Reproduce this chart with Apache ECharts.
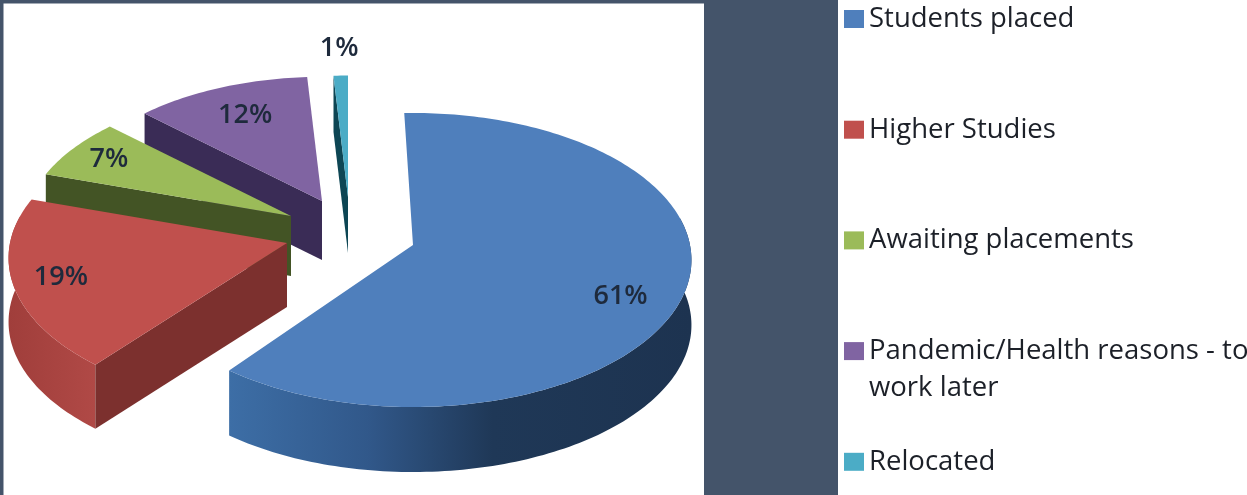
<!DOCTYPE html>
<html><head><meta charset="utf-8">
<style>html,body{margin:0;padding:0;background:#44546a}#c{width:1247px;height:495px}</style>
<script src="https://cdn.jsdelivr.net/npm/echarts@6/dist/echarts.min.js"></script>
</head><body><div id="c"></div>
<script>
const categories = ['Students placed','Higher Studies','Awaiting placements','Pandemic/Health reasons - to','Relocated'];
const legendExtraLine = 'work later';
const values = [61,19,7,12,1];

const topColors  = ['#4f7fbc','#c0504d','#9bbb59','#8064a2','#4bacc6'];
const wallColors = ['#1d3350','#7c302e','#435425','#3a2c56','#0d4654'];
const rimStops = [
  [[0,'#3d6ea6'],[0.3,'#31588a'],[0.57,'#1f3857'],[1,'#1d3350']],
  [[0,'#a03e3b'],[1,'#b04946']],
  [[0,'#5c7430'],[1,'#5c7430']],
  [[0,'#4a3a6e'],[1,'#4a3a6e']],
  [[0,'#2e8aa2'],[1,'#2e8aa2']]
];
/* exploded layout of the five wedges, and the projection of the tilted disc */
const apexes = [[413,245],[287,243],[291,216],[322,201],[348,197]];
const depths = [65,64,60,59,56];
const scales = [1,1,0.96,0.94,0.92];
const turns = [-2,0,0,0,0];
const labelRadii = [0.80,0.83,0.83,0.74,1.25];
const labelTurns = [7.5,0,0,0,0];
const RX = 277, RY = 145.5, PERSP = 0.102;
const DEG = Math.PI/180;

const total = values.reduce((a,b)=>a+b,0);
function wedge(i){
  let s = 0; for(let k=0;k<i;k++) s += values[k];
  const t = turns[i]*DEG;
  return [t+s/total*Math.PI*2, t+(s+values[i])/total*Math.PI*2];
}
function project(i,a,r){
  const u=r*Math.sin(a), v=r*Math.cos(a), w=1+PERSP*v, s=scales[i];
  return [apexes[i][0]+s*RX*u/w, apexes[i][1]-s*RY*v/w];
}
function renderSlice(i){
  return function(params,api){
    const val = api.value(0);
    const [a0,a1] = wedge(i);
    const n = Math.max(4,Math.ceil((a1-a0)/0.02));
    const rim=[], front=[];
    for(let k=0;k<=n;k++){
      const a=a0+(a1-a0)*k/n, p=project(i,a,1);
      rim.push(p);
      if(Math.cos(a)<0.2) front.push(p);   // only the near part of the rim has a visible wall
    }
    const apex=apexes[i], d=depths[i];
    const down=p=>[p[0],p[1]+d];
    const rimFill=new echarts.graphic.LinearGradient(0,0,1,0,rimStops[i].map(s=>({offset:s[0],color:s[1]})));
    const children=[];
    if(front.length>1) children.push({type:'polygon',shape:{points:front.concat(front.slice().reverse().map(down))},style:{fill:rimFill}});
    // a radial wall shows only when it faces the viewer
    if(Math.sin(a0)<-0.05) children.push({type:'polygon',shape:{points:[apex,rim[0],down(rim[0]),down(apex)]},style:{fill:wallColors[i]}});
    if(Math.sin(a1)>0.05)  children.push({type:'polygon',shape:{points:[apex,rim[n],down(rim[n]),down(apex)]},style:{fill:wallColors[i]}});
    children.push({type:'polygon',shape:{points:[apex].concat(rim)},style:{fill:topColors[i]}});
    const lp=project(i,(a0+a1)/2+labelTurns[i]*DEG,labelRadii[i]);
    children.push({type:'text',x:lp[0],y:lp[1],style:{text:val+'%',fill:'#1e2a3c',font:'600 27px "Open Sans"',align:'center',verticalAlign:'middle'}});
    return {type:'group',children};
  };
}
const drawOrder=[4,3,2,1,0];
const series=drawOrder.map((i,pos)=>({
  type:'custom',name:categories[i],coordinateSystem:'none',
  z:2+pos,silent:true,animation:false,
  itemStyle:{color:topColors[i]},
  renderItem:renderSlice(i),
  data:[[values[i]]]
}));
const chart=echarts.init(document.getElementById('c'),null,{renderer:'canvas'});
chart.setOption({
  animation:false,
  backgroundColor:'#44546a',
  graphic:[
    {type:'rect',z:0,shape:{x:3.5,y:3.5,width:700.5,height:492},style:{fill:'#fff'}},
    {type:'rect',z:0,shape:{x:838,y:0,width:409,height:495},style:{fill:'#fff'}},
    {type:'text',z:10,x:869,y:388,style:{text:legendExtraLine,fill:'#1c2028',font:'27.5px "Open Sans"',verticalAlign:'middle'}}
  ],
  legend:{
    orient:'vertical',left:844,top:4,padding:0,itemWidth:20,itemHeight:18,itemGap:80.7,
    icon:'rect',selectedMode:false,
    data:categories,
    textStyle:{color:'#1c2028',fontFamily:'Open Sans',fontSize:27.5,lineHeight:30}
  },
  series
});
</script></body></html>
